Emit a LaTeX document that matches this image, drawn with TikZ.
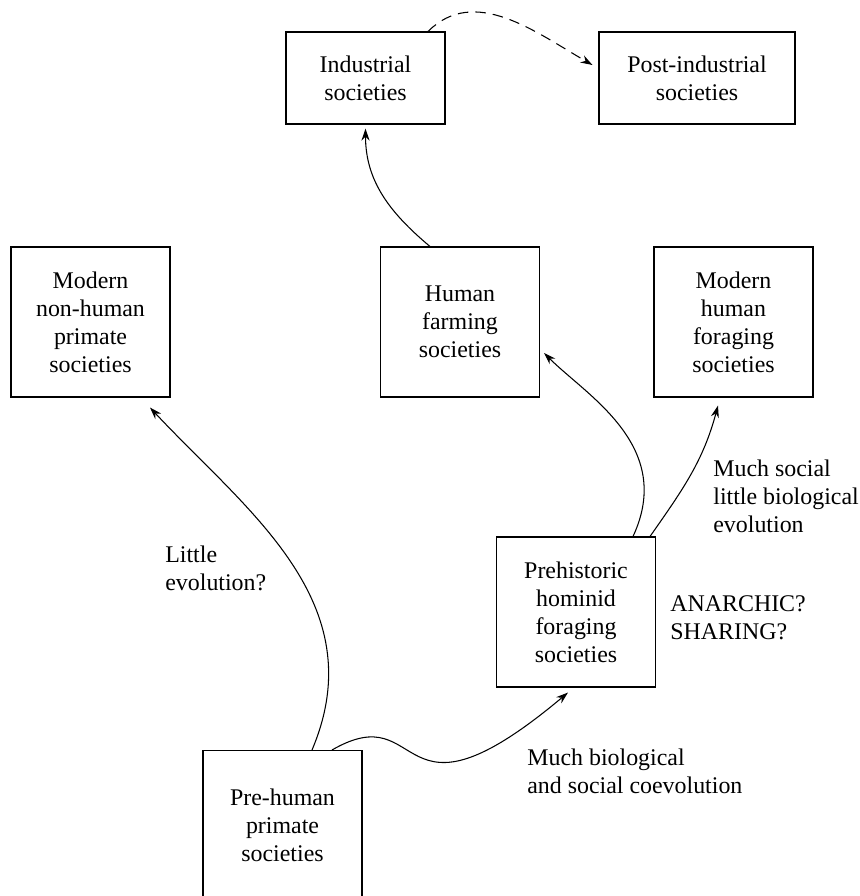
\documentclass[tikz,border=0pt]{standalone}
\usepackage{fontspec}
\setmainfont{Liberation Serif}
\usetikzlibrary{arrows.meta}
\tikzstyle{smallsociety} = [rectangle, minimum width=3.18cm, minimum height=1.84cm, inner sep=0pt, align=center, draw=black, line width=0.6pt]
\tikzstyle{society} = [rectangle, minimum width=3.18cm, minimum height=3cm, inner sep=0pt, align=center, draw=black, line width=0.6pt]
\tikzstyle{note} = [anchor=west, align=left, inner sep=0pt]
\tikzstyle{arrow} = [line width=0.6pt, ->, >={Stealth[length=2.4mm,width=1.6mm]}]

\begin{document}
\begin{tikzpicture}[node distance = 2cm, font=\fontsize{13.6}{16}\selectfont]

            \useasboundingbox (0,0) rectangle (17.2,-17.92);
            \clip (0,0) rectangle (17.2,-17.92);

            \node (ind) [smallsociety] at (7.31,-1.56) {Industrial\\societies};

            \node (post) [smallsociety, right of=ind, xshift=4.63cm, minimum width=3.92cm] {Post-industrial\\societies};

            \node (farming) [society, below of=ind, xshift=1.89cm, yshift=-2.88cm] {Human\\farming\\societies};

            \node (nonhuman) [society, left of=farming, xshift=-5.39cm] {Modern\\non-human\\primate\\societies};

            \node (foraging) [society, right of=farming, xshift=3.47cm] {Modern\\human\\foraging\\societies};

            \node (prehistoric) [society, below of=farming, xshift=2.32cm, yshift=-3.8cm] {Prehistoric\\hominid\\foraging\\societies};

            \node (prehuman) [society, below of=nonhuman, xshift=3.84cm, yshift=-8.07cm] {Pre-human\\primate\\societies};

            \node (little) [note] at (3.3,-11.36) {Little\\evolution?};
            \node (muchsocial) [note] at (14.26,-9.92) {Much social\\little biological\\evolution};
            \node (anarchic) [note] at (13.4,-12.36) {ANARCHIC?\\SHARING?};
            \node (muchbio) [note] at (10.54,-15.42) {Much biological\\and social coevolution};


            \draw [arrow] ([xshift=-0.6cm]farming.north) to[out=140,in=-90] ([yshift=-0.08cm]ind.south);
            \draw [arrow, dashed, dash pattern=on 6pt off 4pt] ([xshift=1.25cm]ind.north) to[out=45,in=150] ([xshift=-0.12cm,yshift=0.26cm]post.west);
            \draw [arrow] ([xshift=1.14cm]prehistoric.north) .. controls +(65:2cm) and +(-45:1.2cm) .. ([xshift=0.08cm,yshift=-0.62cm]farming.east);
            \draw [arrow] ([xshift=1.48cm]prehistoric.north) to[out=55,in=-105] ([xshift=-0.31cm,yshift=-0.16cm]foraging.south);
            \draw [arrow] ([xshift=0.59cm]prehuman.north) .. controls +(67:3.22cm) and +(-47:2.8cm) .. ([xshift=1.19cm,yshift=-0.2cm]nonhuman.south);
            \draw [arrow] ([xshift=0.99cm]prehuman.north) .. controls +(30:2.2cm) and +(-140:4.6cm) .. ([xshift=-0.16cm,yshift=-0.1cm]prehistoric.south);


        \end{tikzpicture}
\end{document}
